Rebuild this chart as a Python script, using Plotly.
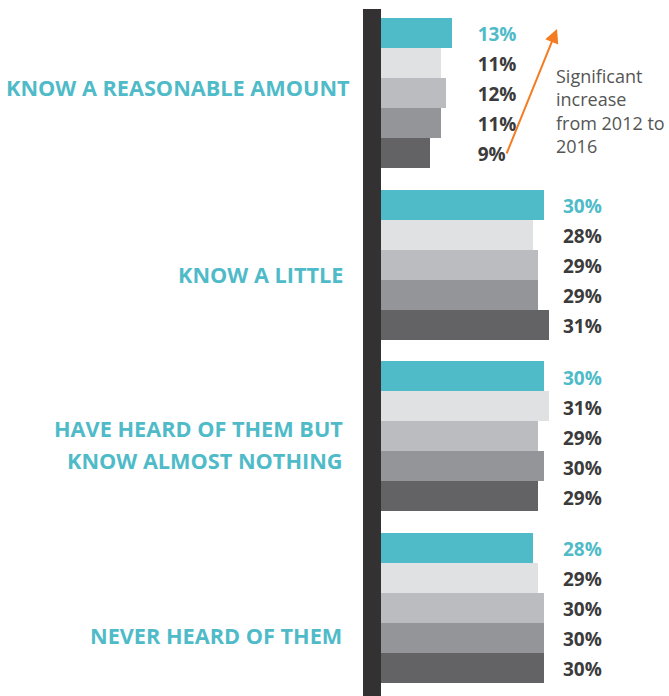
import plotly.graph_objects as go

categories = ["KNOW A REASONABLE AMOUNT", "KNOW A LITTLE",
              "HAVE HEARD OF THEM BUT<br>KNOW ALMOST NOTHING", "NEVER HEARD OF THEM"]
years = ["2016", "2015", "2014", "2013", "2012"]
# values per year (series), one per category
v2016 = [13, 30, 30, 28]
v2015 = [11, 28, 31, 29]
v2014 = [12, 29, 29, 30]
v2013 = [11, 29, 30, 30]
v2012 = [9, 31, 29, 30]
series = [v2016, v2015, v2014, v2013, v2012]
note = "Significant<br>increase<br>from 2012 to<br>2016"

colors = ["#4FBBC8", "#E0E1E2", "#BBBCBF", "#939598", "#636365"]
label_colors = ["#4FBBC8", "#3B3B3B", "#3B3B3B", "#3B3B3B", "#3B3B3B"]
TEAL = "#4FBBC8"
PITCH = 5.72
W, H = 669, 696
ML = 381
XMAX = (W - ML) / 5.43

fig = go.Figure()
for s, (yr, vals) in enumerate(zip(years, series)):
    ys = [g * PITCH + s for g in range(len(categories))]
    fig.add_trace(go.Bar(orientation="h", x=vals, y=ys, width=1.0,
                         marker=dict(color=colors[s], line=dict(width=0)),
                         name=yr, showlegend=False, hoverinfo="x+name"))

# value labels
for s, vals in enumerate(series):
    xs, ys, ts = [], [], []
    for g in range(len(categories)):
        gmax = max(sr[g] for sr in series)
        lx = gmax + 4.8 if gmax < 25 else 33.5
        xs.append(lx)
        ys.append(g * PITCH + s + 0.12)
        ts.append(f"{vals[g]}%")
    fig.add_trace(go.Scatter(x=xs, y=ys, text=ts, mode="text", textposition="middle right",
                             textfont=dict(family="Open Sans", size=19, color=label_colors[s],
                                           weight="bold"),
                             showlegend=False, hoverinfo="skip"))

def py(px):
    return 1 - px / H

# category labels (layout: centre y in px, right edge in px)
label_px = [87, 274, 444, 635]
label_right = [352, 345, 345, 344]
LINE = 32
for cat, p, r in zip(categories, label_px, label_right):
    lines = cat.split("<br>")
    n = len(lines)
    for i, ln in enumerate(lines):
        yc = p + (i - (n - 1) / 2) * LINE
        fig.add_annotation(text=ln, xref="paper", yref="paper", x=(r - ML) / (W - ML), y=py(yc),
                           xanchor="right", yanchor="middle", align="right", showarrow=False,
                           font=dict(family="Open Sans", size=21.7, color=TEAL, weight="bold"))

# dark axis bar
fig.add_shape(type="rect", xref="paper", yref="paper",
              x0=(363 - ML) / (W - ML), x1=0, y0=0, y1=py(9),
              fillcolor="#333132", line=dict(width=0), layer="above")

def dx(px):
    return (px - ML) / 5.43

def dy(px):
    return (px - 33) / 30

# arrow
fig.add_annotation(x=dx(557), y=dy(29), ax=dx(506), ay=dy(155), xref="x", yref="y",
                   axref="x", ayref="y", showarrow=True, arrowhead=2, arrowsize=1.4,
                   arrowwidth=2, arrowcolor="#F47B20", text="")
fig.add_annotation(text=note, x=dx(554), y=dy(110.5), xref="x", yref="y",
                   xanchor="left", yanchor="middle", align="left", showarrow=False,
                   font=dict(family="Open Sans", size=18, color="#555555"))

fig.update_layout(
    width=W, height=H, margin=dict(l=ML, r=0, t=0, b=0),
    plot_bgcolor="white", paper_bgcolor="white", bargap=0,
    xaxis=dict(range=[0, XMAX], visible=False, fixedrange=True),
    yaxis=dict(range=[dy(H), dy(0)], visible=False, fixedrange=True),
)
fig.write_html("out.html")
